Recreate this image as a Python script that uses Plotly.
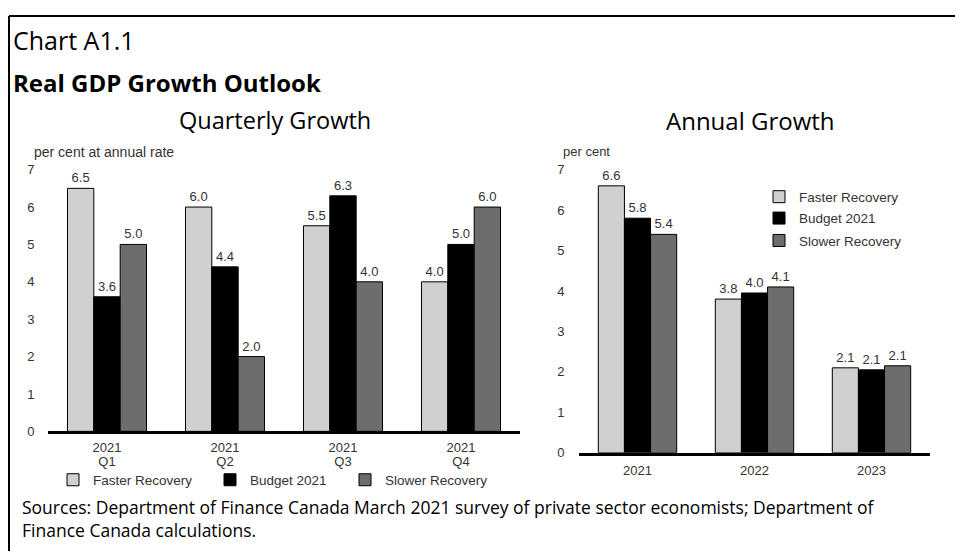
import plotly.graph_objects as go

# ---------------------------------------------------------------------------
# Data
# ---------------------------------------------------------------------------
quarter_years = ["2021", "2021", "2021", "2021"]
quarter_names = ["Q1", "Q2", "Q3", "Q4"]
quarters = [f"{y} {q}" for y, q in zip(quarter_years, quarter_names)]
years = ["2021", "2022", "2023"]

series_names = ["Faster Recovery", "Budget 2021", "Slower Recovery"]
series_colors = ["#d0d0d0", "#000000", "#6d6d6d"]

quarterly_faster = [6.5, 6.0, 5.5, 4.0]
quarterly_budget = [3.6, 4.4, 6.3, 5.0]
quarterly_slower = [5.0, 2.0, 4.0, 6.0]

annual_faster = [6.6, 3.8, 2.1]
annual_budget = [5.8, 3.95, 2.05]
annual_slower = [5.4, 4.1, 2.15]
annual_faster_labels = ["6.6", "3.8", "2.1"]
annual_budget_labels = ["5.8", "4.0", "2.1"]
annual_slower_labels = ["5.4", "4.1", "2.1"]

y_ticks = [0, 1, 2, 3, 4, 5, 6, 7]

# ---------------------------------------------------------------------------
# Layout helpers (page body has an 8px margin, so shift everything by 8)
# ---------------------------------------------------------------------------
W, H = 963, 551
OFF = 8
TXT = "#333333"
AX_FONT = "Liberation Sans, Arial, sans-serif"
HEAD_FONT = "Open Sans, Noto Sans, sans-serif"


def px_x(p):
    return (p - OFF) / W


def px_y(p):
    return 1 - (p - OFF) / H


quarterly = [quarterly_faster, quarterly_budget, quarterly_slower]
annual = [annual_faster, annual_budget, annual_slower]
annual_labels = [annual_faster_labels, annual_budget_labels, annual_slower_labels]

fig = go.Figure()

# quarterly panel
for i, name in enumerate(series_names):
    fig.add_trace(go.Bar(
        x=quarters,
        y=quarterly[i],
        name=name,
        marker=dict(color=series_colors[i], line=dict(color="#000000", width=1)),
        text=[f"{v:.1f}" for v in quarterly[i]],
        textposition="outside",
        textfont=dict(size=13, color=TXT, family=AX_FONT),
        cliponaxis=False,
        xaxis="x", yaxis="y",
        legend="legend" if i == 0 else f"legend{i + 1}",
    ))

# invisible helper on the overlaid axis that carries the "Q1".."Q4" row
fig.add_trace(go.Scatter(
    x=quarters, y=quarterly_faster,
    xaxis="x3", yaxis="y",
    mode="markers", marker=dict(opacity=0),
    showlegend=False, hoverinfo="skip",
))

# annual panel
for i, name in enumerate(series_names):
    fig.add_trace(go.Bar(
        x=years,
        y=annual[i],
        name=name,
        marker=dict(color=series_colors[i], line=dict(color="#000000", width=1)),
        text=annual_labels[i],
        textposition="outside",
        textfont=dict(size=13, color=TXT, family=AX_FONT),
        cliponaxis=False,
        xaxis="x2", yaxis="y2",
        legend=f"legend{i + 4}",
    ))

axis_common = dict(
    showgrid=False,
    zeroline=False,
    tickfont=dict(size=13, color=TXT, family=AX_FONT),
    fixedrange=True,
)


def one_legend(x_ref, y_ref):
    return dict(
        orientation="v",
        x=px_x(x_ref), xanchor="left",
        y=px_y(y_ref), yanchor="middle",
        font=dict(size=13.5, color=TXT, family=AX_FONT),
        bgcolor="rgba(0,0,0,0)",
        borderwidth=0,
        itemclick=False, itemdoubleclick=False,
    )


fig.update_layout(
    width=W, height=H,
    margin=dict(l=0, r=0, t=0, b=0),
    paper_bgcolor="#ffffff",
    plot_bgcolor="#ffffff",
    barmode="group",
    bargap=0.33,
    bargroupgap=0,
    font=dict(family=AX_FONT, color=TXT),
    showlegend=True,
    xaxis=dict(
        domain=[px_x(48), px_x(520)],
        anchor="y",
        showline=True, linecolor="#000000", linewidth=3,
        ticks="outside", ticklen=2, tickcolor="rgba(0,0,0,0)",
        tickvals=quarters, ticktext=quarter_years,
        range=[-0.5, 3.5],
        **axis_common,
    ),
    xaxis3=dict(
        domain=[px_x(48), px_x(520)],
        overlaying="x",
        anchor="free",
        position=px_y(452),
        showline=False,
        ticks="outside", ticklen=2, tickcolor="rgba(0,0,0,0)",
        tickvals=quarters, ticktext=quarter_names,
        range=[-0.5, 3.5],
        **axis_common,
    ),
    yaxis=dict(
        domain=[px_y(436), px_y(167)],
        anchor="x",
        range=[0, 7], tickvals=y_ticks,
        ticks="outside", ticklen=10, tickcolor="rgba(0,0,0,0)",
        showline=False,
        **axis_common,
    ),
    xaxis2=dict(
        domain=[px_x(579), px_x(930)],
        anchor="y2",
        showline=True, linecolor="#000000", linewidth=3,
        ticks="outside", ticklen=4, tickcolor="rgba(0,0,0,0)",
        range=[-0.5, 2.5],
        **axis_common,
    ),
    yaxis2=dict(
        domain=[px_y(458), px_y(167)],
        anchor="x2",
        range=[0, 7], tickvals=y_ticks,
        ticks="outside", ticklen=11, tickcolor="rgba(0,0,0,0)",
        showline=False,
        **axis_common,
    ),
    legend=one_legend(53, 486),
    legend2=one_legend(210, 486),
    legend3=one_legend(345, 486),
    legend4=one_legend(759, 195),
    legend5=one_legend(759, 217),
    legend6=one_legend(759, 240),
)

# frame lines (left and top)
fig.add_shape(type="line", xref="paper", yref="paper",
              x0=px_x(9), x1=px_x(9), y0=0, y1=px_y(9),
              line=dict(color="#000000", width=2))
fig.add_shape(type="line", xref="paper", yref="paper",
              x0=px_x(9), x1=1, y0=px_y(9), y1=px_y(9),
              line=dict(color="#000000", width=2))

annotations = [
    dict(text="Chart A1.1", x=px_x(11), y=px_y(34), xanchor="left", yanchor="middle",
         font=dict(size=25, color="#000000", family=HEAD_FONT)),
    dict(text="<b>Real GDP Growth Outlook</b>", x=px_x(11), y=px_y(77), xanchor="left", yanchor="middle",
         font=dict(size=24, color="#000000", family=HEAD_FONT)),
    dict(text="Quarterly Growth", x=px_x(275), y=px_y(116), xanchor="center", yanchor="middle",
         font=dict(size=23.5, color="#000000", family=HEAD_FONT)),
    dict(text="Annual Growth", x=px_x(750), y=px_y(116), xanchor="center", yanchor="middle",
         font=dict(size=24, color="#000000", family=HEAD_FONT)),
    dict(text="per cent at annual rate", x=px_x(32), y=px_y(149), xanchor="left", yanchor="middle",
         font=dict(size=14, color=TXT, family=AX_FONT)),
    dict(text="per cent", x=px_x(561), y=px_y(148), xanchor="left", yanchor="middle",
         font=dict(size=13, color=TXT, family=AX_FONT)),
    dict(text="Sources: Department of Finance Canada March 2021 survey of private sector economists; Department of"
              "<br>Finance Canada calculations.",
         x=px_x(20), y=px_y(526), xanchor="left", yanchor="middle", align="left",
         font=dict(size=17.5, color="#000000", family=HEAD_FONT)),
]
for a in annotations:
    a.update(xref="paper", yref="paper", showarrow=False)
fig.update_layout(annotations=annotations)

fig.write_html("out.html", config={"displayModeBar": False})
